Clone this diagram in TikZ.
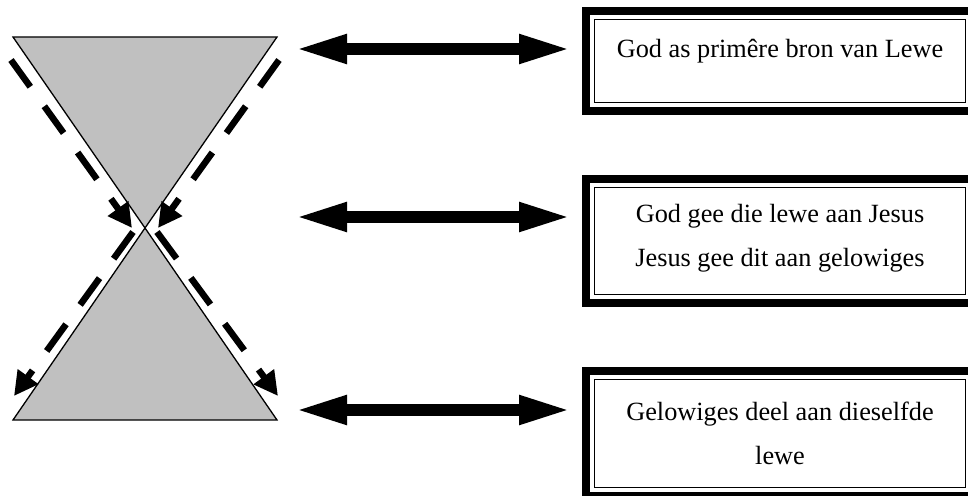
\documentclass[tikz,border=0pt]{standalone}
\usepackage{fontspec}
\setmainfont{Liberation Serif}
\usetikzlibrary{arrows.meta}
\definecolor{conegray}{HTML}{C0C0C0}
\begin{document}
\begin{tikzpicture}[x=1pt,y=-1pt,
  cone/.style={fill=conegray,draw=black,line width=1.3pt,line join=miter},
  dasharrow/.style={line width=6.5pt,dash pattern=on 33pt off 24pt,
     -{Triangle[length=24pt,width=24pt]}},
  bigarrow/.style={line width=12.5pt,
     {Triangle[length=54pt,width=26pt]}-{Triangle[length=54pt,width=26pt]}},
  boxnode/.style={rectangle,inner sep=0pt,outer sep=0pt,minimum width=396pt},
  thickframe/.style={line width=8pt},
  thinframe/.style={line width=1.3pt},
  lbl/.style={inner sep=0pt,font=\fontsize{26.3}{30}\selectfont}]
\useasboundingbox (0,0) rectangle (968,495);
% hourglass
\coordinate (tl) at (13,37);
\coordinate (tr) at (277,37);
\coordinate (apex) at (145,228);
\coordinate (bl) at (13,420);
\coordinate (br) at (277,420);
\draw[cone] (tl) -- (tr) -- (apex) -- cycle;
\draw[cone] (bl) -- (br) -- (apex) -- cycle;
% dashed arrows
\coordinate (d1s) at (11,60);   \coordinate (d1e) at (132,228);
\coordinate (d2s) at (279,60);  \coordinate (d2e) at (158,228);
\coordinate (d3s) at (133,232); \coordinate (d3e) at (14,396);
\coordinate (d4s) at (157,232); \coordinate (d4e) at (278,396);
\draw[dasharrow] (d1s) -- (d1e);
\draw[dasharrow] (d2s) -- (d2e);
\draw[dasharrow] (d3s) -- (d3e);
\draw[dasharrow] (d4s) -- (d4e);
% boxes
\node[boxnode,minimum height=108pt] (b1) at (780,61) {};
\node[boxnode,minimum height=132pt] (b2) at (780,241) {};
\node[boxnode,minimum height=133pt] (b3) at (780,433.5) {};
\foreach \b in {b1,b2,b3}{
  \draw[thickframe] ([shift={(4,4)}]\b.north west) rectangle ([shift={(-4,-4)}]\b.south east);
  \draw[thinframe] ([shift={(12.5,12.5)}]\b.north west) rectangle ([shift={(-12.5,-12.5)}]\b.south east);
}
\node[lbl,anchor=base] (t1) at (780,58) {God as primêre bron van Lewe};
\node[lbl,anchor=base] (t2a) at (780,222) {God gee die lewe aan Jesus};
\node[lbl,anchor=base] (t2b) at (780,266) {Jesus gee dit aan gelowiges};
\node[lbl,anchor=base] (t3a) at (780,420) {Gelowiges deel aan dieselfde};
\node[lbl,anchor=base] (t3b) at (780,464) {lewe};
% double arrows
\coordinate (a1l) at (293,49);  \coordinate (a1r) at (573,49);
\coordinate (a2l) at (293,217); \coordinate (a2r) at (573,217);
\coordinate (a3l) at (293,410); \coordinate (a3r) at (573,410);
\draw[bigarrow] (a1l) -- (a1r);
\draw[bigarrow] (a2l) -- (a2r);
\draw[bigarrow] (a3l) -- (a3r);
\end{tikzpicture}
\end{document}
